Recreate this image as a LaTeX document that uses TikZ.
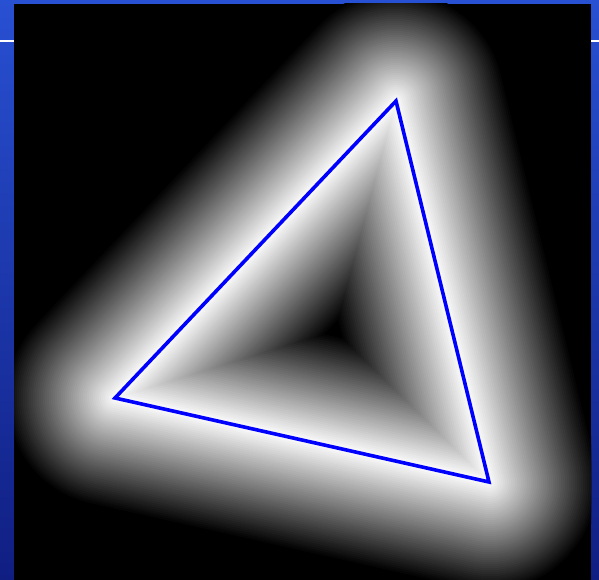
\documentclass[tikz,border=0pt]{standalone}
\usetikzlibrary{calc}
\definecolor{slidetop}{RGB}{40,80,210}
\definecolor{slidebot}{RGB}{16,30,130}
\definecolor{edgeblue}{RGB}{0,0,255}

\begin{document}
\begin{tikzpicture}[x=1pt,y=-1pt]
  \useasboundingbox (0,0) rectangle (599,580);

  % Slide background
  \shade[top color=slidetop,bottom color=slidebot] (0,0) rectangle (599,580);
  \draw[white,line width=1.2pt] (0,41) -- (599,41);

  % Black panel
  \fill[black] (14,4) rectangle (591,580);

  % Triangle corners
  \coordinate (apex) at (396,101);
  \coordinate (left) at (115,398);
  \coordinate (right) at (489,482);

  % Distance glow
  \begin{scope}
    \clip (14,4) rectangle (591,580);
    \foreach \d in {110,108,...,2} {
      \pgfmathsetmacro{\lw}{2*\d}
      \pgfmathsetmacro{\shadeval}{100*(1-\d/110)}
      \draw[white!\shadeval!black,line width=\lw pt,line join=round]
        (apex) -- (left) -- (right) -- cycle;
    }
  \end{scope}

  % Triangle edges
  \draw[edgeblue,line width=3.6pt] (apex) -- (left) -- (right) -- cycle;
\end{tikzpicture}
\end{document}
